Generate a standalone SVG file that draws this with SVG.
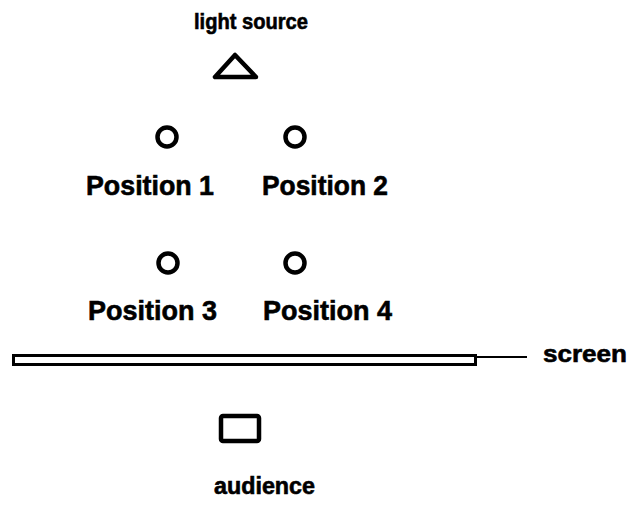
<svg xmlns="http://www.w3.org/2000/svg" width="632" height="508" viewBox="0 0 632 508">
<style>
.t{font-family:"Liberation Sans",Arial,sans-serif;font-weight:bold;fill:#000;stroke:#000;stroke-width:0.6}
.s{fill:none;stroke:#000;stroke-width:4.5;stroke-linejoin:round}
</style>
<rect width="632" height="508" fill="#fff"/>
<g id="light-source">
<text class="t" x="194" y="29" font-size="22" textLength="114" lengthAdjust="spacingAndGlyphs">light source</text>
<polygon class="s" points="235,55 215,77 256,77"/>
</g>
<g id="position-1">
<circle class="s" cx="167" cy="137" r="9.5"/>
<text class="t" x="86" y="195" font-size="28" textLength="128" lengthAdjust="spacingAndGlyphs">Position 1</text>
</g>
<g id="position-2">
<circle class="s" cx="295" cy="137" r="9.5"/>
<text class="t" x="262" y="195" font-size="28" textLength="126" lengthAdjust="spacingAndGlyphs">Position 2</text>
</g>
<g id="position-3">
<circle class="s" cx="168" cy="263" r="9.5"/>
<text class="t" x="88" y="320" font-size="28" textLength="129" lengthAdjust="spacingAndGlyphs">Position 3</text>
</g>
<g id="position-4">
<circle class="s" cx="295" cy="263" r="9.5"/>
<text class="t" x="263" y="320" font-size="28" textLength="129" lengthAdjust="spacingAndGlyphs">Position 4</text>
</g>
<g id="screen">
<rect x="13.5" y="355.5" width="462" height="9" fill="none" stroke="#000" stroke-width="3"/>
<text class="t" x="543" y="362" font-size="24" textLength="84" lengthAdjust="spacingAndGlyphs">screen</text>
</g>
<g id="connectors">
<line x1="477" y1="357" x2="527" y2="357" stroke="#000" stroke-width="2"/>
</g>
<g id="audience">
<rect class="s" x="221" y="416" width="38" height="25" rx="2"/>
<text class="t" x="214" y="494" font-size="23" textLength="101" lengthAdjust="spacingAndGlyphs">audience</text>
</g>
</svg>
